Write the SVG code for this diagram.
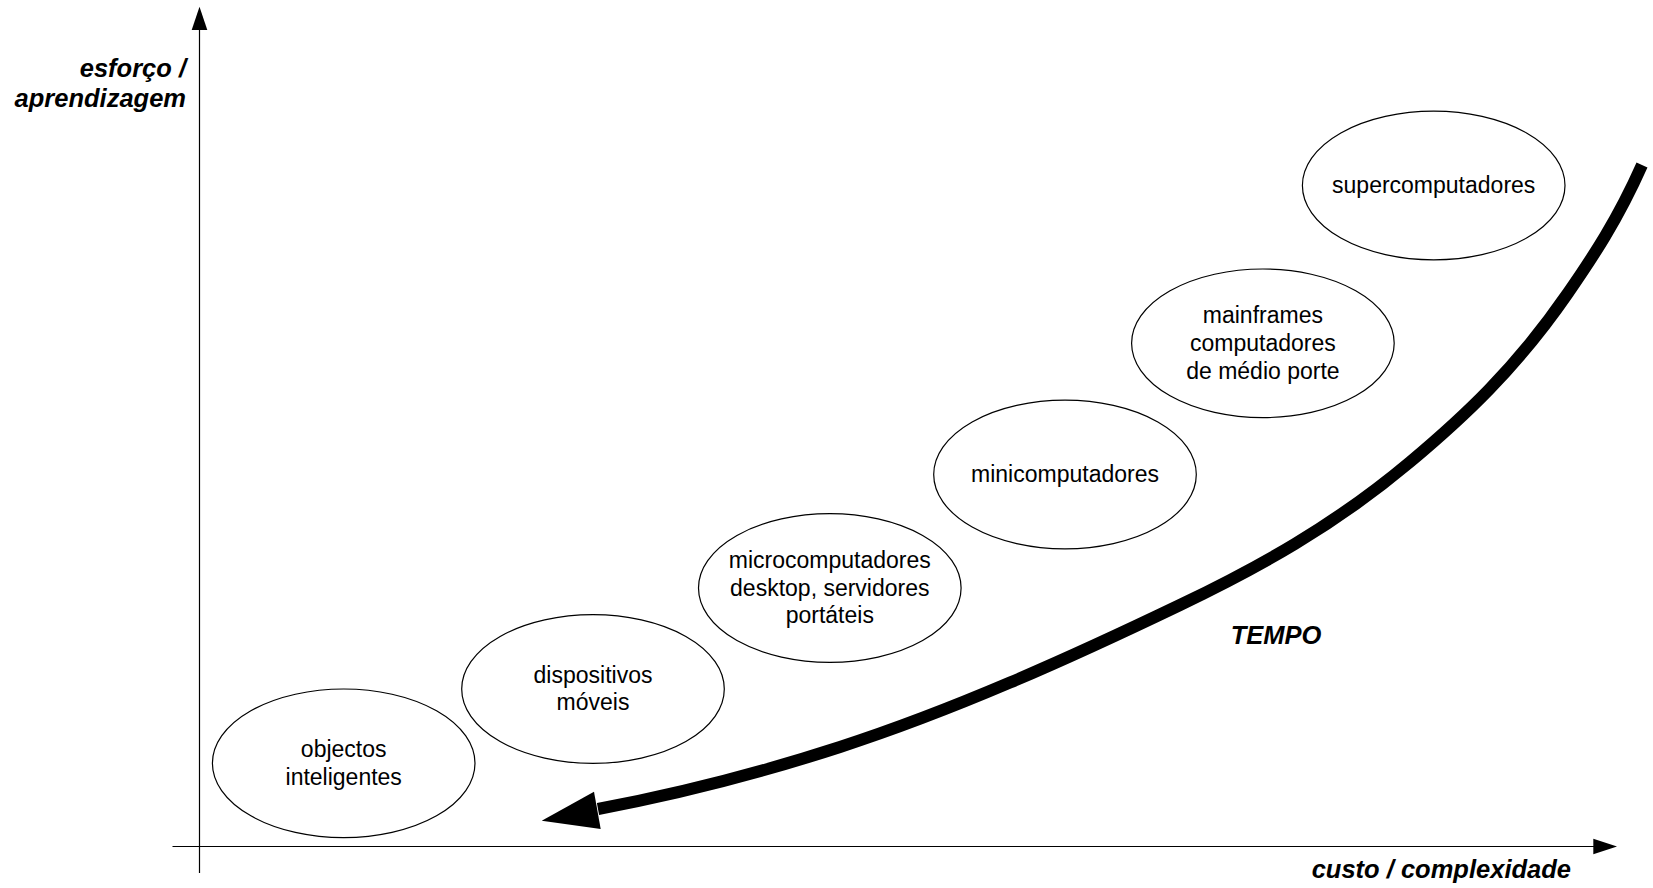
<svg xmlns="http://www.w3.org/2000/svg" width="1653" height="888" viewBox="0 0 1653 888">
<style>
.node ellipse{fill:#fff;stroke:#000;stroke-width:1.2}
.node text{font-family:"Liberation Sans",Arial,sans-serif;font-size:23px;fill:#000;text-anchor:middle}
.lbl{font-family:"Liberation Sans",Arial,sans-serif;font-size:25.5px;font-weight:bold;font-style:italic;fill:#000}
.axis{stroke:#000;stroke-width:1.2;fill:none}
</style>
<rect width="1653" height="888" fill="#fff"/>
<g id="axes">
<line class="axis" x1="199.5" y1="28" x2="199.5" y2="873"/>
<polygon points="199.5,6.7 191.7,30 207.3,30" fill="#000"/>
<line class="axis" x1="172.5" y1="846.5" x2="1595" y2="846.5"/>
<polygon points="1617,846.5 1593.3,838.8 1593.3,854.2" fill="#000"/>
</g>
<g id="connectors">
<path d="M1642,165 C1617.3,220.5 1592.7,257.2 1568,293 C1515.3,369.4 1462.7,417.8 1410,462 C1333.3,526.4 1256.7,568.2 1180,605 C1066.7,659.4 953.3,710.2 840,747 C759.3,773.2 678.7,793.9 598,809" fill="none" stroke="#000" stroke-width="12" stroke-linecap="butt"/>
<polygon points="541.7,820.7 594,791.7 600.7,829" fill="#000"/>
</g>
<g id="node-objectos" class="node">
<ellipse cx="343.7" cy="763.3" rx="131.3" ry="74.3"/>
<text x="343.7" y="756.9">objectos</text>
<text x="343.7" y="784.7">inteligentes</text>
</g>
<g id="node-dispositivos" class="node">
<ellipse cx="593" cy="689" rx="131.3" ry="74.3"/>
<text x="593" y="682.6">dispositivos</text>
<text x="593" y="710.4">móveis</text>
</g>
<g id="node-micro" class="node">
<ellipse cx="829.8" cy="588" rx="131.3" ry="74.3"/>
<text x="829.8" y="567.7">microcomputadores</text>
<text x="829.8" y="595.5">desktop, servidores</text>
<text x="829.8" y="623.3">portáteis</text>
</g>
<g id="node-mini" class="node">
<ellipse cx="1065" cy="474.5" rx="131.3" ry="74.3"/>
<text x="1065" y="482">minicomputadores</text>
</g>
<g id="node-mainframes" class="node">
<ellipse cx="1262.9" cy="343.3" rx="131.3" ry="74.3"/>
<text x="1262.9" y="323">mainframes</text>
<text x="1262.9" y="350.8">computadores</text>
<text x="1262.9" y="378.6">de médio porte</text>
</g>
<g id="node-super" class="node">
<ellipse cx="1433.7" cy="185.5" rx="131.3" ry="74.3"/>
<text x="1433.7" y="193">supercomputadores</text>
</g>
<g id="labels">
<text class="lbl" x="186" y="77.3" text-anchor="end">esforço /</text>
<text class="lbl" x="186" y="106.7" text-anchor="end">aprendizagem</text>
<text class="lbl" x="1571" y="878" text-anchor="end">custo / complexidade</text>
<text class="lbl" x="1276" y="644" text-anchor="middle">TEMPO</text>
</g>
</svg>
